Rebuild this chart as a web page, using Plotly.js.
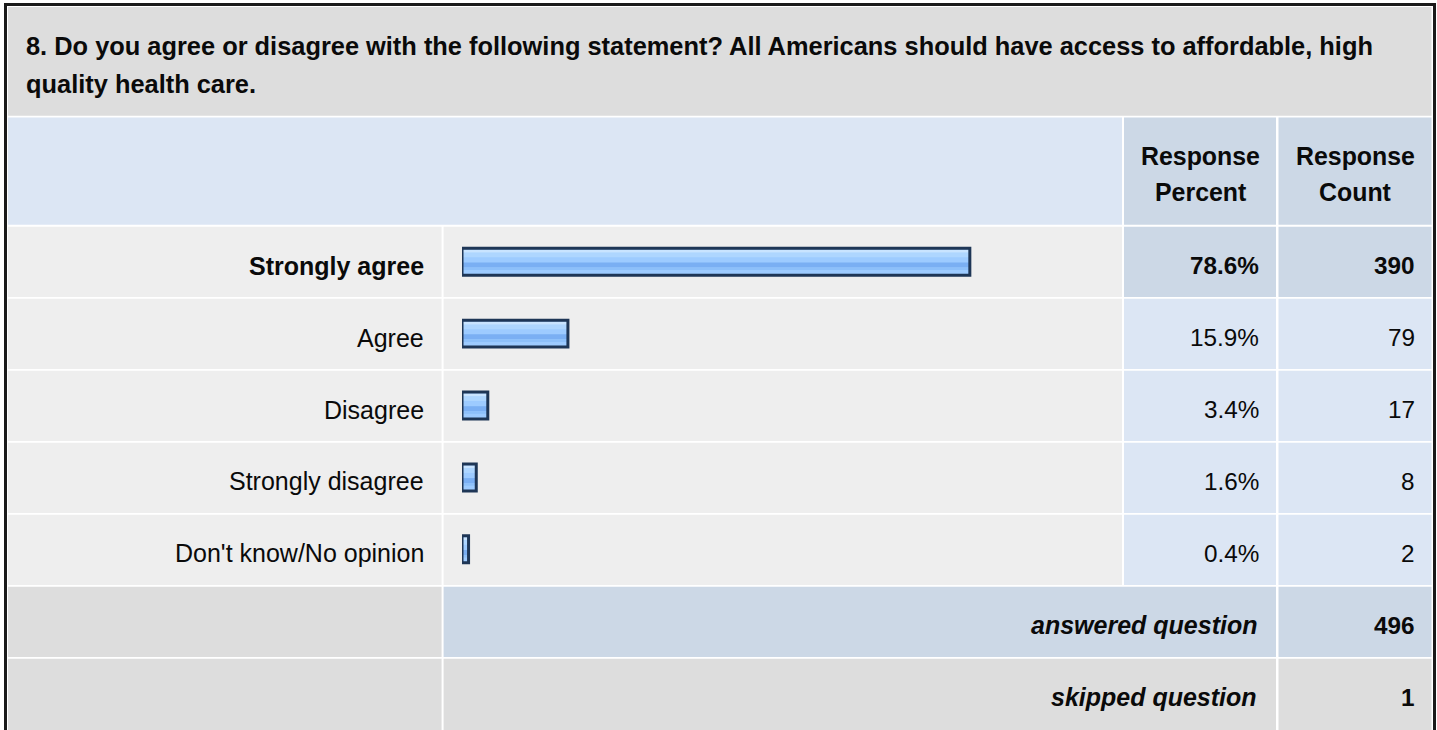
<!DOCTYPE html>
<html>
<head>
<meta charset="utf-8">
<script src="https://cdn.plot.ly/plotly-3.0.1.min.js"></script>
<style>
html,body{margin:0;padding:0;background:#fff;}
#chart{width:1437px;height:730px;}
</style>
</head>
<body>
<div id="chart"></div>
<script>
// ---- data ----
const questionLine1 = "8. Do you agree or disagree with the following statement? All Americans should have access to affordable, high";
const questionLine2 = "quality health care.";
const headerPercent = ["Response", "Percent"];
const headerCount = ["Response", "Count"];
const categories = ["Strongly agree", "Agree", "Disagree", "Strongly disagree", "Don't know/No opinion"];
const percents = [78.6, 15.9, 3.4, 1.6, 0.4];
const counts = [390, 79, 17, 8, 2];
const highlighted = [true, false, false, false, false];
const summaryLabels = ["answered question", "skipped question"];
const summaryValues = [496, 1];

// ---- geometry helpers (pixels -> paper) ----
const W = 1437, H = 730;
const fx = p => p / W;
const fy = p => 1 - p / H;
function rect(x0, x1, y0, y1, color) {
  return {type: 'rect', xref: 'paper', yref: 'paper', layer: 'below',
    x0: fx(x0), x1: fx(x1), y0: fy(y1), y1: fy(y0),
    fillcolor: color, line: {width: 0}};
}
const FONT = "Liberation Sans, Arial, Helvetica, sans-serif";
const GRAY = '#DDDDDD', BLUE = '#DCE6F4', BLUE2 = '#CCD8E6', ROWBG = '#EEEEEE';
const ROW_TOP = 226.8, ROW_PITCH = 72, ROW_H = 70.2;
const C_LABEL = [8, 441.6], C_BAR = [443.6, 1122], C_PCT = [1124, 1276], C_CNT = [1278.5, 1431.5];

const shapes = [];
shapes.push(rect(4, 1436, 3, 780, '#1a1a1a'));
shapes.push(rect(7, 1433, 6, 780, '#ffffff'));
shapes.push(rect(8, 1431.5, 7, 115.8, GRAY));
shapes.push(rect(8, C_BAR[1], 117.5, 224.8, BLUE));
shapes.push(rect(C_PCT[0], C_PCT[1], 117.5, 224.8, BLUE2));
shapes.push(rect(C_CNT[0], C_CNT[1], 117.5, 224.8, BLUE2));
categories.forEach((c, i) => {
  const y0 = ROW_TOP + ROW_PITCH * i, y1 = y0 + ROW_H;
  const side = highlighted[i] ? BLUE2 : BLUE;
  shapes.push(rect(C_LABEL[0], C_LABEL[1], y0, y1, ROWBG));
  shapes.push(rect(C_BAR[0], C_BAR[1], y0, y1, ROWBG));
  shapes.push(rect(C_PCT[0], C_PCT[1], y0, y1, side));
  shapes.push(rect(C_CNT[0], C_CNT[1], y0, y1, side));
});
{
  const n = categories.length;
  let y0 = ROW_TOP + ROW_PITCH * n, y1 = y0 + ROW_H;
  shapes.push(rect(C_LABEL[0], C_LABEL[1], y0, y1, GRAY));
  shapes.push(rect(C_BAR[0], C_PCT[1], y0, y1, BLUE2));
  shapes.push(rect(C_CNT[0], C_CNT[1], y0, y1, BLUE2));
  y0 = ROW_TOP + ROW_PITCH * (n + 1); y1 = 780;
  shapes.push(rect(C_LABEL[0], C_LABEL[1], y0, y1, GRAY));
  shapes.push(rect(C_BAR[0], C_PCT[1], y0, y1, GRAY));
  shapes.push(rect(C_CNT[0], C_CNT[1], y0, y1, GRAY));
}

// ---- bars ----
const PX_PER_PCT = 6.41;          // horizontal scale
const LEAD = 4 / PX_PER_PCT;      // bars start a little left of zero (bar-image lead-in)
const yIdx = categories.map((c, i) => i);
const U = 1 / ROW_PITCH; // one pixel in category units
const BAR_C = -1;        // bar centre relative to row centre (px)
function barTrace(p0, p1, color, line) {
  // each bar runs from -LEAD up to its value on the x scale
  return {type: 'bar', orientation: 'h', x: percents.map(p => p + LEAD), y: yIdx, base: -LEAD,
    offset: (BAR_C + p0) * U, width: (p1 - p0) * U,
    marker: {color: color, line: line || {width: 0}},
    hoverinfo: 'skip', showlegend: false};
}
const traces = [
  barTrace(-13.5, 13.5, '#9DCBFF'),
  barTrace(-12, -9, '#C9E4FF'),
  barTrace(-9, -4.5, '#AED6FF'),
  barTrace(0.7, 5.7, '#7AAFF3'),
  barTrace(5.7, 8.3, '#8DC0FA'),
  barTrace(-13.5, 13.5, 'rgba(0,0,0,0)', {width: 3, color: '#1E3656'})
];

// ---- texts ----
const ann = [];
const INK = '#0a0a0a';
function txt(o) { return Object.assign({showarrow: false, borderpad: 0}, o); }
ann.push(txt({xref: 'paper', yref: 'paper', x: fx(25), y: fy(45.5), xanchor: 'left', yanchor: 'middle',
  text: '<b>' + questionLine1 + '</b>', font: {family: FONT, size: 25.4, color: INK}}));
ann.push(txt({xref: 'paper', yref: 'paper', x: fx(25), y: fy(84.2), xanchor: 'left', yanchor: 'middle',
  text: '<b>' + questionLine2 + '</b>', font: {family: FONT, size: 25.4, color: INK}}));
[[headerPercent, 1200], [headerCount, 1355]].forEach(([h, cx]) => {
  ann.push(txt({xref: 'paper', yref: 'paper', x: fx(cx), y: fy(155.5), xanchor: 'center', yanchor: 'middle',
    text: '<b>' + h[0] + '</b>', font: {family: FONT, size: 24.9, color: INK}}));
  ann.push(txt({xref: 'paper', yref: 'paper', x: fx(cx), y: fy(192), xanchor: 'center', yanchor: 'middle',
    text: '<b>' + h[1] + '</b>', font: {family: FONT, size: 24.9, color: INK}}));
});
const b = (s, on) => on ? '<b>' + s + '</b>' : s;
const fLab = {family: FONT, size: 25, color: INK};
const fNum = {family: FONT, size: 24.3, color: INK};
categories.forEach((c, i) => {
  ann.push(txt({xref: 'paper', yref: 'y', x: fx(425), y: i, yshift: -3, xanchor: 'right', yanchor: 'middle',
    text: b(c, highlighted[i]), font: fLab}));
  ann.push(txt({xref: 'paper', yref: 'y', x: fx(1260), y: i, yshift: -3, xanchor: 'right', yanchor: 'middle',
    text: b(percents[i].toFixed(1) + '%', highlighted[i]), font: fNum}));
  ann.push(txt({xref: 'paper', yref: 'y', x: fx(1416), y: i, yshift: -3, xanchor: 'right', yanchor: 'middle',
    text: b(String(counts[i]), highlighted[i]), font: fNum}));
});
summaryLabels.forEach((s, k) => {
  const i = categories.length + k;
  ann.push(txt({xref: 'paper', yref: 'y', x: fx(1258), y: i, yshift: -3, xanchor: 'right', yanchor: 'middle',
    text: '<b><i>' + s + '</i></b>', font: fLab}));
  ann.push(txt({xref: 'paper', yref: 'y', x: fx(1416), y: i, yshift: -3, xanchor: 'right', yanchor: 'middle',
    text: '<b>' + summaryValues[k] + '</b>', font: fNum}));
});

const nRows = categories.length + summaryLabels.length;
const X0 = 462;
const layout = {
  width: W, height: H,
  margin: {l: 0, r: 0, t: 0, b: 0, pad: 0},
  paper_bgcolor: '#ffffff', plot_bgcolor: 'rgba(0,0,0,0)',
  barmode: 'overlay', showlegend: false,
  xaxis: {domain: [fx(X0), fx(X0 + 100 * PX_PER_PCT)], range: [-LEAD, 100 - LEAD],
    visible: false, fixedrange: true},
  yaxis: {domain: [fy(ROW_TOP + ROW_PITCH * nRows), fy(ROW_TOP)], range: [nRows - 0.5, -0.5],
    visible: false, fixedrange: true},
  shapes: shapes, annotations: ann
};
Plotly.newPlot('chart', traces, layout, {staticPlot: true, displayModeBar: false});
</script>
</body>
</html>
